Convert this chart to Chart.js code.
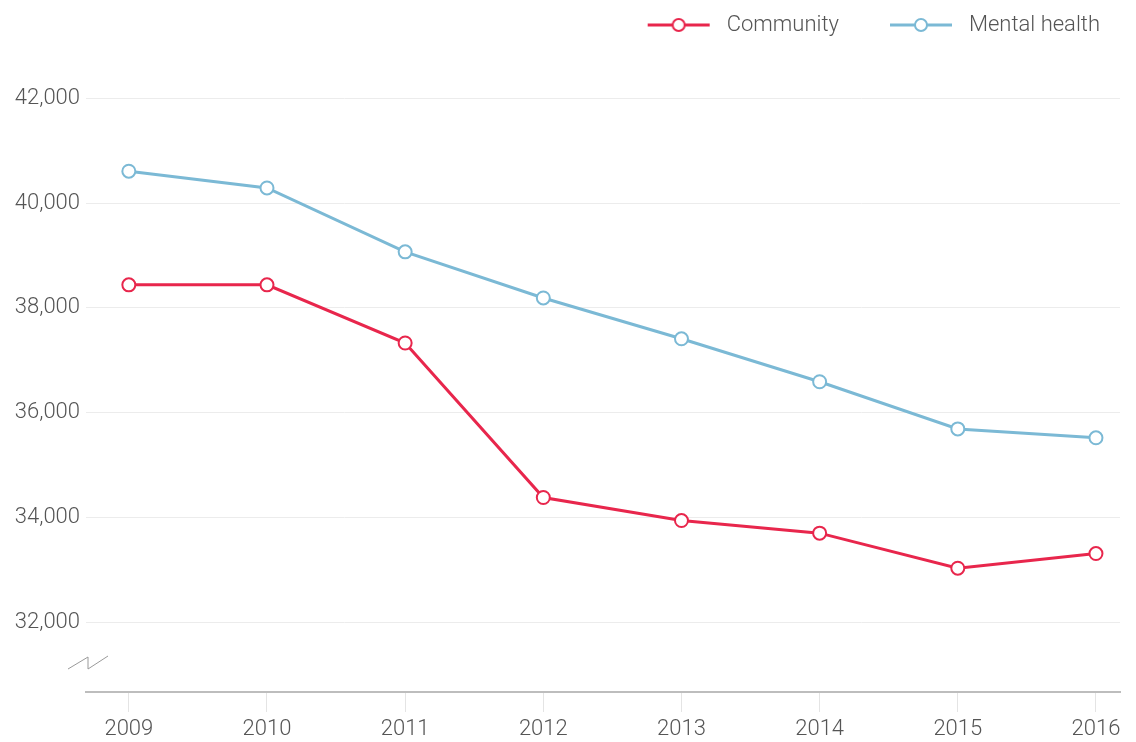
<!DOCTYPE html>
<html>
<head>
<meta charset="utf-8">
<script src="https://cdn.jsdelivr.net/npm/chart.js@4/dist/chart.umd.min.js"></script>
<style>
  html, body { margin: 0; padding: 0; background: #fff; }
  #wrap { width: 1136px; height: 742px; }
</style>
</head>
<body>
<div id="wrap"><canvas id="chart" width="1136" height="742"></canvas></div>
<script>
// data
const years = [2009, 2010, 2011, 2012, 2013, 2014, 2015, 2016];
const community = [38440, 38440, 37330, 34380, 33940, 33700, 33030, 33310];
const mentalHealth = [40610, 40290, 39070, 38190, 37410, 36590, 35690, 35520];
const yTicks = [32000, 34000, 36000, 38000, 40000, 42000];

const RED = '#e8264c';
const BLUE = '#7bb9d5';
const TEXT = '#555';
const FONT = { family: 'Roboto', size: 22, weight: 300 };

// legend marker: short line with an open circle (leading blank space = gap between items)
function legendMarker(color) {
  const c = document.createElement('canvas');
  c.width = 105; c.height = 16;
  const g = c.getContext('2d');
  g.strokeStyle = color;
  g.lineWidth = 3;
  g.beginPath(); g.moveTo(37, 8); g.lineTo(99, 8); g.stroke();
  g.fillStyle = '#fff';
  g.lineWidth = 2;
  g.beginPath(); g.arc(68, 8, 6, 0, Math.PI * 2); g.fill(); g.stroke();
  return c;
}

// little zigzag on the y axis to show it does not start at zero
const axisBreak = {
  id: 'axisBreak',
  afterDraw(chart) {
    const { ctx, chartArea } = chart;
    const x = chartArea.left, y = chartArea.bottom;
    ctx.save();
    ctx.strokeStyle = '#9a9a9a';
    ctx.lineWidth = 1;
    ctx.beginPath();
    ctx.moveTo(x - 18, y - 23);
    ctx.lineTo(x + 2, y - 35);
    ctx.lineTo(x + 2, y - 23);
    ctx.lineTo(x + 22, y - 36);
    ctx.stroke();
    ctx.restore();
  }
};

// nudge the legend a little left
const legendNudge = {
  id: 'legendNudge',
  afterLayout(chart) {
    const lg = chart.legend;
    if (!lg) return;
    lg.right -= 6;
  }
};

const whiteBg = {
  id: 'whiteBg',
  beforeDraw(chart) {
    const ctx = chart.ctx;
    ctx.save();
    ctx.fillStyle = '#fff';
    ctx.fillRect(0, 0, chart.width, chart.height);
    ctx.restore();
  }
};

const ds = (label, data, color) => ({
  label,
  data: years.map((y, i) => ({ x: y, y: data[i] })),
  borderColor: color,
  backgroundColor: '#fff',
  borderWidth: 3,
  tension: 0,
  pointRadius: 6.5,
  pointHoverRadius: 6.5,
  pointBorderWidth: 2,
  pointBackgroundColor: '#fff',
  pointBorderColor: color,
  pointStyle: 'circle'
});

new Chart(document.getElementById('chart'), {
  type: 'line',
  data: {
    datasets: [
      ds('Community', community, RED),
      ds('Mental health', mentalHealth, BLUE)
    ]
  },
  plugins: [whiteBg, axisBreak, legendNudge],
  options: {
    responsive: false,
    animation: false,
    layout: { padding: { left: 0, right: 16, top: 0, bottom: 0 } },
    plugins: {
      tooltip: { enabled: false },
      legend: {
        position: 'top',
        align: 'end',
        labels: {
          usePointStyle: true,
          pointStyleWidth: 105,
          padding: 14,
          color: TEXT,
          font: FONT,
          generateLabels(chart) {
            return chart.data.datasets.map((d, i) => ({
              text: d.label,
              pointStyle: legendMarker(d.borderColor),
              fillStyle: '#fff',
              strokeStyle: d.borderColor,
              lineWidth: 0,
              fontColor: TEXT,
              datasetIndex: i
            }));
          }
        }
      }
    },
    scales: {
      x: {
        type: 'linear',
        min: 2008.69,
        max: 2016.174,
        afterBuildTicks(scale) { scale.ticks = years.map(v => ({ value: v })); },
        afterFit(scale) { scale.height = 50; },
        border: { display: true, color: '#bdbdbd', width: 2 },
        grid: { drawOnChartArea: false, drawTicks: true, tickLength: 20, color: '#e4e4e4', lineWidth: 1 },
        ticks: {
          padding: 4,
          color: TEXT,
          font: FONT,
          callback: v => String(v)
        }
      },
      y: {
        min: 30667,
        max: 43000,
        afterBuildTicks(scale) { scale.ticks = yTicks.map(v => ({ value: v })); },
        afterFit(scale) { scale.width = 86; },
        border: { display: false },
        grid: { color: '#ececec', lineWidth: 1, drawTicks: false },
        ticks: {
          padding: 6,
          color: TEXT,
          font: FONT,
          callback: v => v.toLocaleString('en-US')
        }
      }
    }
  }
});
</script>
</body>
</html>
